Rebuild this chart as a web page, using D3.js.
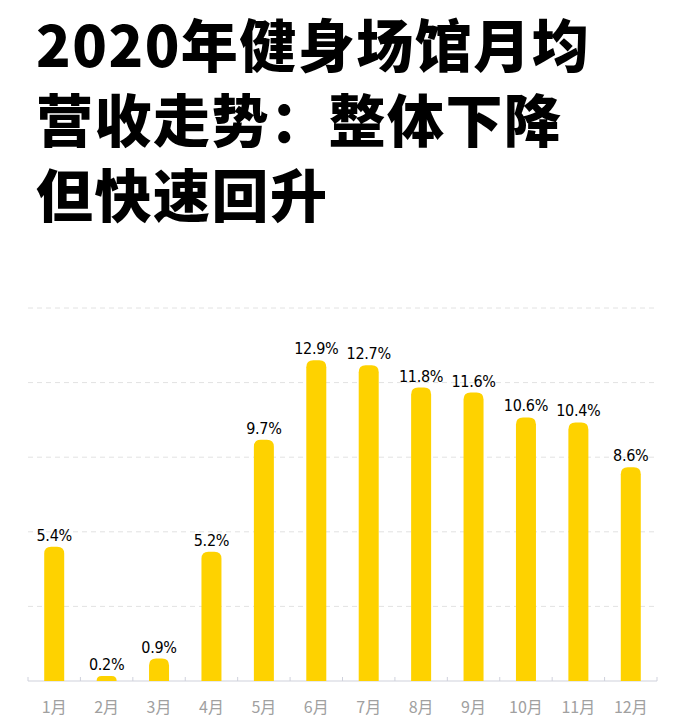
<!DOCTYPE html>
<html>
<head>
<meta charset="utf-8">
<script src="https://cdn.jsdelivr.net/npm/d3@7"></script>
<style>
  body { margin: 0; background: #fff; }
</style>
</head>
<body>
<div id="chart"></div>
<script>
// data
var months = ["1月","2月","3月","4月","5月","6月","7月","8月","9月","10月","11月","12月"];
var revenue = [5.4, 0.2, 0.9, 5.2, 9.7, 12.9, 12.7, 11.8, 11.6, 10.6, 10.4, 8.6];
var gridTicks = [3, 6, 9, 12, 15];
var titleLines = ["2020年健身场馆月均", "营收走势：整体下降", "但快速回升"];

var W = 685, H = 726;
var margin = {top: 308, right: 28, bottom: 45, left: 28};

var svg = d3.select("#chart")
  .append("svg")
    .attr("width", W)
    .attr("height", H);

// title
svg.append("g")
  .selectAll("text")
  .data(titleLines)
  .enter()
  .append("text")
    .attr("x", 36)
    .attr("y", function(d, i) { return 67 + i * 75; })
    .attr("font-family", "'Noto Sans CJK SC', 'Noto Sans', sans-serif")
    .attr("font-weight", 900)
    .attr("font-size", 57)
    .attr("letter-spacing", 1.5)
    .attr("fill", "#000")
    .text(function(d) { return d; });

// scales
var x = d3.scaleBand()
  .domain(months)
  .range([margin.left, W - margin.right])
  .padding(0);

var y = d3.scaleLinear()
  .domain([0, 15])
  .range([H - margin.bottom, margin.top]);

// grid
svg.append("g")
  .selectAll("line")
  .data(gridTicks)
  .enter()
  .append("line")
    .attr("x1", margin.left)
    .attr("x2", W - margin.right)
    .attr("y1", function(d) { return y(d); })
    .attr("y2", function(d) { return y(d); })
    .attr("stroke", "#e2e2e2")
    .attr("stroke-width", 1)
    .attr("stroke-dasharray", "5,4");

// x axis
var axis = svg.append("g")
  .attr("transform", "translate(0," + y(0) + ")");
axis.append("line")
  .attr("x1", margin.left)
  .attr("x2", W - margin.right)
  .attr("stroke", "#cfd1dc")
  .attr("stroke-width", 1.2);
var bounds = months.map(function(d) { return x(d); }).concat([x.range()[1]]);
axis.selectAll(".tick")
  .data(bounds)
  .enter()
  .append("line")
    .attr("x1", function(d) { return d; })
    .attr("x2", function(d) { return d; })
    .attr("y1", -4)
    .attr("y2", 0)
    .attr("stroke", "#cfd1dc");
axis.selectAll(".lbl")
  .data(months)
  .enter()
  .append("text")
    .attr("x", function(d) { return x(d) + x.bandwidth() / 2; })
    .attr("y", 32)
    .attr("text-anchor", "middle")
    .attr("font-family", "'Noto Sans CJK SC', 'Noto Sans', sans-serif")
    .attr("font-size", 16)
    .attr("fill", "#a0a0a0")
    .text(function(d) { return d; });

// bars with rounded top
var barW = 20;
function barPath(d, i) {
  var cx = x(months[i]) + x.bandwidth() / 2;
  var x0 = cx - barW / 2, x1 = cx + barW / 2;
  var yb = y(0), yt = y(d);
  var r = Math.min(7, yb - yt, barW / 2);
  return "M" + x0 + "," + yb +
    "V" + (yt + r) +
    "Q" + x0 + "," + yt + " " + (x0 + r) + "," + yt +
    "H" + (x1 - r) +
    "Q" + x1 + "," + yt + " " + x1 + "," + (yt + r) +
    "V" + yb + "Z";
}
svg.append("g")
  .selectAll("path")
  .data(revenue)
  .enter()
  .append("path")
    .attr("d", barPath)
    .attr("fill", "#fed200");

// value labels
svg.append("g")
  .selectAll("text")
  .data(revenue)
  .enter()
  .append("text")
    .attr("x", function(d, i) { return x(months[i]) + x.bandwidth() / 2; })
    .attr("y", function(d) { return y(d) - 6; })
    .attr("text-anchor", "middle")
    .attr("font-family", "'Liberation Sans Narrow', 'DejaVu Sans Condensed', sans-serif")
    .attr("font-size", 16)
    .attr("font-weight", 500)
    .attr("letter-spacing", -0.3)
    .attr("fill", "#000")
    .text(function(d) { return d.toFixed(1) + "%"; });
</script>
</body>
</html>
